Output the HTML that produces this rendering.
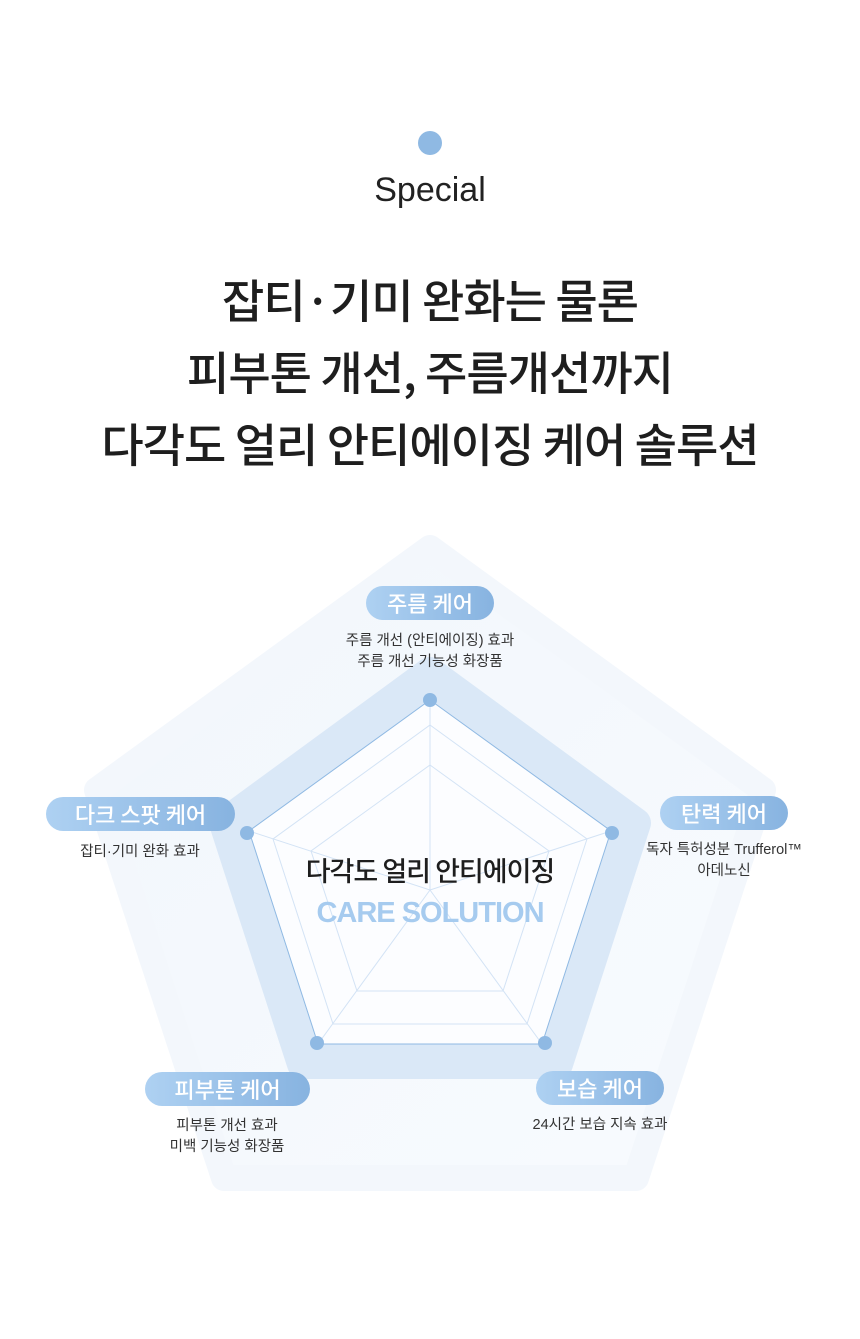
<!DOCTYPE html>
<html><head><meta charset="utf-8"><style>
body{margin:0;background:#fff;width:860px;height:1339px;position:relative;overflow:hidden;font-family:"Liberation Sans","Noto Sans CJK KR",sans-serif;color:#222}
.a{position:absolute;text-align:center}
.pill{position:absolute;height:34px;border-radius:17px;background:linear-gradient(90deg,#aed1f2,#87b3e0);color:#fff;font-size:22px;font-weight:500;line-height:34px;text-align:center;font-family:"Noto Sans CJK KR",sans-serif}
.d{position:absolute;font-size:14.5px;color:#333;line-height:21px;text-align:center;white-space:nowrap}
</style></head><body>
<div style="position:absolute;left:418px;top:131px;width:24px;height:24px;border-radius:50%;background:#8fb9e3"></div>
<div class="a" style="left:0;width:860px;top:171px;font-size:34px;color:#222">Special</div>
<div class="a" style="left:0;width:860px;top:263px;font-size:46px;font-weight:500;line-height:72px;color:#1e1e1e;letter-spacing:-1px;font-family:'Noto Sans CJK KR',sans-serif">잡티·기미 완화는 물론<br>피부톤 개선, 주름개선까지<br>다각도 얼리 안티에이징 케어 솔루션</div>
<svg style="position:absolute;left:0;top:0" width="860" height="1339">
<defs><linearGradient id="g" x1="0" y1="0" x2="1" y2="1"><stop offset="0" stop-color="#f1f6fc"/><stop offset="1" stop-color="#f8fbfe"/></linearGradient></defs>
<polygon points="430,548 763,790 636,1178 224,1178 97,790" fill="url(#g)" stroke="#f3f7fc" stroke-width="26" stroke-linejoin="round"/>
<polygon points="430,672 636,823 558,1064 302,1064 224,823" fill="#dae8f7" stroke="#dae8f7" stroke-width="30" stroke-linejoin="round"/>
<polygon points="430,700 611,831 542,1044 318,1044 249,831" fill="#fcfdff" stroke="#8fb9e3" stroke-width="1"/>
<g fill="none" stroke="#d3e3f5" stroke-width="1">
<polygon points="430,725 587,839 527,1024 333,1024 273,839"/>
<polygon points="430,765 549,851 503,991 357,991 311,851"/>
<line x1="430" y1="890" x2="430" y2="700"/><line x1="430" y1="890" x2="611" y2="831"/><line x1="430" y1="890" x2="542" y2="1044"/><line x1="430" y1="890" x2="318" y2="1044"/><line x1="430" y1="890" x2="249" y2="831"/>
</g>
<g fill="#8fb9e3"><circle cx="430" cy="700" r="7"/><circle cx="612" cy="833" r="7"/><circle cx="545" cy="1043" r="7"/><circle cx="317" cy="1043" r="7"/><circle cx="247" cy="833" r="7"/></g>
</svg>
<div class="a" style="left:230px;width:400px;top:850px;font-size:27px;font-weight:500;color:#1e1e1e;letter-spacing:-1px;font-family:'Noto Sans CJK KR',sans-serif">다각도 얼리 안티에이징</div>
<div class="a" style="left:230px;width:400px;top:897px;font-size:29px;font-weight:bold;color:#a6cbef;letter-spacing:-1px">CARE SOLUTION</div>
<div class="pill" style="left:366px;top:586px;width:128px">주름 케어</div>
<div class="d" style="left:280px;width:300px;top:631px">주름 개선 (안티에이징) 효과<br>주름 개선 기능성 화장품</div>
<div class="pill" style="left:46px;top:797px;width:189px">다크 스팟 케어</div>
<div class="d" style="left:40px;width:200px;top:842px">잡티·기미 완화 효과</div>
<div class="pill" style="left:660px;top:796px;width:128px">탄력 케어</div>
<div class="d" style="left:624px;width:200px;top:840px">독자 특허성분 Trufferol™<br>아데노신</div>
<div class="pill" style="left:145px;top:1072px;width:165px">피부톤 케어</div>
<div class="d" style="left:127px;width:200px;top:1116px">피부톤 개선 효과<br>미백 기능성 화장품</div>
<div class="pill" style="left:536px;top:1071px;width:128px">보습 케어</div>
<div class="d" style="left:500px;width:200px;top:1115px">24시간 보습 지속 효과</div>
</body></html>
